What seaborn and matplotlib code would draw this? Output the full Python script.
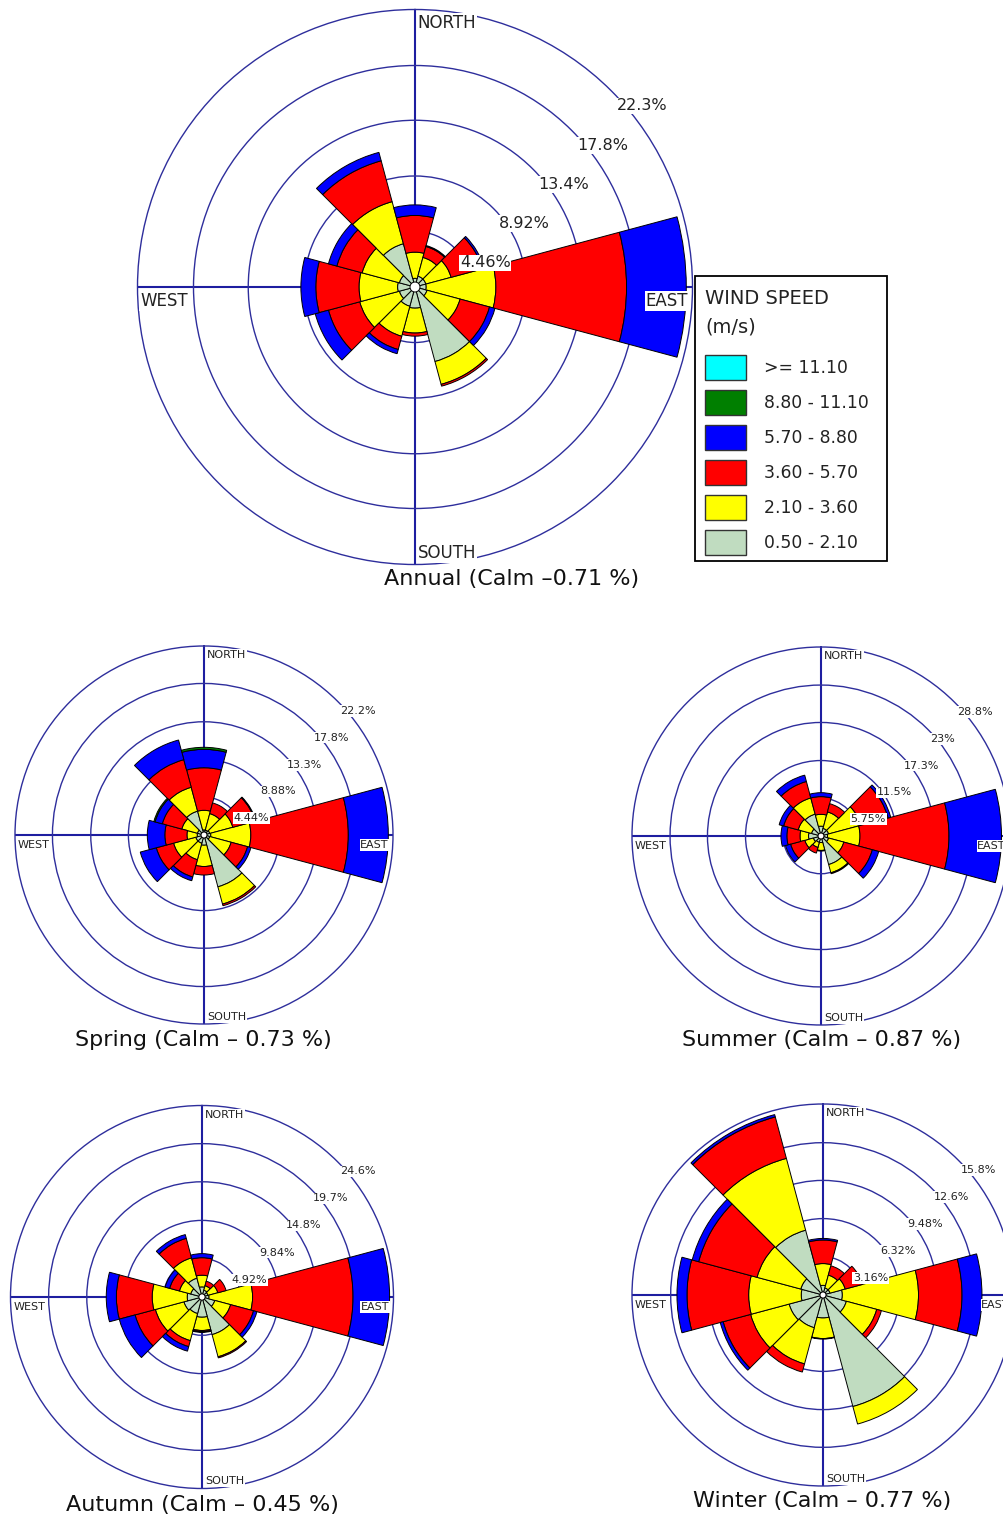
import numpy as np
import matplotlib
matplotlib.use("Agg")
import matplotlib.pyplot as plt
from matplotlib.patches import Patch, Rectangle
import seaborn as sns

# ---------------- data ----------------
directions = [0, 30, 60, 90, 120, 150, 180, 210, 240, 270, 300, 330]
speed_labels = ["0.50 - 2.10", "2.10 - 3.60", "3.60 - 5.70", "5.70 - 8.80", "8.80 - 11.10", ">= 11.10"]
speed_colors = ["#c0dcc0", "#ffff00", "#ff0000", "#0000ff", "#007f00", "#00ffff"]

# % frequency per direction and speed class
annual_050_210 = [0.7, 0.9, 0.9, 0.9, 1.0, 6.2, 1.7, 1.6, 1.3, 1.4, 1.3, 3.6]
annual_210_360 = [2.1, 1.56, 2.1, 5.6, 2.75, 1.9, 2.0, 2.5, 3.3, 3.1, 3.1, 3.5]
annual_360_570 = [2.95, 0.91, 2.6, 10.5, 2.45, 0.15, 0.25, 1.1, 2.6, 3.47, 2.1, 3.4]
annual_570_880 = [0.85, 0.08, 0.15, 4.8, 0.45, 0.0, 0.0, 0.35, 1.1, 1.2, 0.7, 0.7]
annual_880_1110 = [0, 0, 0, 0, 0, 0, 0, 0, 0, 0, 0, 0]
annual_ge_1110 = [0, 0, 0, 0, 0, 0, 0, 0, 0, 0, 0, 0]

spring_050_210 = [0.6, 0.6, 0.7, 0.8, 0.7, 6.3, 1.2, 1.0, 1.0, 0.8, 0.8, 2.9]
spring_210_360 = [2.3, 2.0, 2.8, 4.7, 2.6, 2.1, 2.5, 2.0, 2.7, 1.2, 1.9, 2.9]
spring_360_570 = [5.0, 1.3, 2.7, 11.45, 2.0, 0.2, 1.0, 2.1, 2.1, 2.6, 2.37, 3.36]
spring_570_880 = [2.16, 0.0, 0.1, 4.7, 0.4, 0.0, 0.0, 0.46, 1.95, 2.06, 0.88, 2.39]
spring_880_1110 = [0.24, 0, 0, 0, 0, 0, 0, 0, 0, 0, 0.15, 0]
spring_ge_1110 = [0, 0, 0, 0, 0, 0, 0, 0, 0, 0, 0, 0]

summer_050_210 = [1.5, 1.2, 1.2, 1.0, 1.2, 4.5, 1.0, 1.0, 1.2, 1.9, 1.5, 3.45]
summer_210_360 = [1.8, 2.6, 5.1, 4.94, 2.4, 1.3, 1.2, 0.8, 1.35, 1.3, 2.1, 2.55]
summer_360_570 = [2.7, 1.3, 4.3, 13.56, 4.5, 0.15, 0.1, 0.9, 2.25, 2.0, 2.3, 2.6]
summer_570_880 = [0.6, 0.0, 0.4, 8.0, 1.0, 0.0, 0.0, 0.0, 0.8, 0.9, 0.7, 1.0]
summer_880_1110 = [0, 0, 0, 0, 0, 0, 0, 0, 0, 0, 0, 0]
summer_ge_1110 = [0, 0, 0, 0, 0, 0, 0, 0, 0, 0, 0, 0]

autumn_050_210 = [1.3, 0.9, 0.8, 0.9, 1.7, 5.0, 2.6, 2.2, 2.4, 1.9, 1.5, 2.5]
autumn_210_360 = [1.5, 0.6, 1.3, 5.6, 2.1, 2.95, 1.7, 3.6, 3.8, 4.5, 1.5, 2.7]
autumn_360_570 = [2.25, 0.6, 1.1, 12.9, 3.05, 0.15, 0.15, 0.8, 2.7, 4.6, 1.3, 2.6]
autumn_570_880 = [0.52, 0.0, 0.0, 4.7, 0.45, 0.0, 0.1, 0.6, 2.1, 1.3, 0.6, 0.5]
autumn_880_1110 = [0, 0, 0, 0, 0, 0, 0, 0, 0, 0, 0, 0]
autumn_ge_1110 = [0, 0, 0, 0, 0, 0, 0, 0, 0, 0, 0, 0]

winter_050_210 = [0.8, 0.6, 0.6, 1.6, 2.0, 9.55, 1.9, 2.8, 2.9, 1.8, 1.9, 5.55]
winter_210_360 = [1.8, 1.1, 1.3, 6.3, 2.6, 1.5, 1.7, 3.1, 3.3, 4.35, 3.75, 6.15]
winter_360_570 = [1.95, 0.8, 1.47, 3.6, 0.4, 0.0, 0.05, 0.7, 2.35, 5.1, 5.0, 3.55]
winter_570_880 = [0.13, 0.0, 0.0, 1.65, 0.0, 0.0, 0.0, 0.0, 0.25, 0.83, 0.55, 0.2]
winter_880_1110 = [0, 0, 0, 0, 0, 0, 0, 0, 0, 0, 0, 0]
winter_ge_1110 = [0, 0, 0, 0, 0, 0, 0, 0, 0, 0, 0, 0]

annual_rings = [4.46, 8.92, 13.4, 17.8, 22.3]
annual_ring_labels = ["4.46%", "8.92%", "13.4%", "17.8%", "22.3%"]
spring_rings = [4.44, 8.88, 13.3, 17.8, 22.2]
spring_ring_labels = ["4.44%", "8.88%", "13.3%", "17.8%", "22.2%"]
summer_rings = [5.75, 11.5, 17.3, 23.0, 28.8]
summer_ring_labels = ["5.75%", "11.5%", "17.3%", "23%", "28.8%"]
autumn_rings = [4.92, 9.84, 14.8, 19.7, 24.6]
autumn_ring_labels = ["4.92%", "9.84%", "14.8%", "19.7%", "24.6%"]
winter_rings = [3.16, 6.32, 9.48, 12.6, 15.8]
winter_ring_labels = ["3.16%", "6.32%", "9.48%", "12.6%", "15.8%"]

titles = ["Annual (Calm \u20130.71 %)", "Spring (Calm \u2013 0.73 %)", "Summer (Calm \u2013 0.87 %)",
          "Autumn (Calm \u2013 0.45 %)", "Winter (Calm \u2013 0.77 %)"]

# ---------------- figure ----------------
sns.set_theme(style="white")
plt.rcParams['font.family'] = ['DejaVu Sans']

W, H = 1004, 1517
fig = plt.figure(figsize=(W / 100, H / 100), dpi=100)
fig.patch.set_facecolor("white")

RING_COLOR = "#2e2e9c"
AXIS_COLOR = "#1e1ea0"
TEXT_COLOR = "#222222"


def add_rose(cx, cy, R, classes, rings, ring_labels, dir_fs, ring_fs, ring_off, hole):
    ax = fig.add_axes([(cx - R) / W, 1 - (cy + R) / H, 2 * R / W, 2 * R / H], projection="polar")
    ax.set_theta_zero_location("N")
    ax.set_theta_direction(-1)
    ax.set_facecolor("white")
    theta = np.deg2rad(directions)
    bottom = np.zeros(len(directions))
    for vals, col in zip(classes, speed_colors):
        vals = np.asarray(vals, dtype=float)
        m = vals > 0
        if m.any():
            ax.bar(theta[m], vals[m], width=np.deg2rad(30), bottom=bottom[m], color=col,
                   edgecolor="black", linewidth=0.7, zorder=3, align="center")
        bottom += vals
    rmax = rings[-1]
    ax.set_ylim(0, rmax)
    ax.set_rgrids(rings[:-1], labels=[])
    ax.set_thetagrids([0, 90, 180, 270], labels=[])
    ax.yaxis.grid(True, color=RING_COLOR, linewidth=1.0)
    ax.xaxis.grid(True, color=AXIS_COLOR, linewidth=1.5)
    ax.set_axisbelow(True)
    ax.spines["polar"].set_color(RING_COLOR)
    ax.spines["polar"].set_linewidth(1.0)
    ax.tick_params(pad=0, length=0)
    # calm hole
    tt = np.linspace(0, 2 * np.pi, 120)
    ax.fill(tt, np.full_like(tt, hole), facecolor="white", edgecolor="black", linewidth=0.7, zorder=5)
    bb = dict(facecolor="white", edgecolor="none", pad=0.6)
    kw = dict(textcoords="offset points", fontsize=dir_fs, color=TEXT_COLOR, bbox=bb,
              zorder=7, annotation_clip=False)
    ax.annotate("NORTH", xy=(0, rmax), xytext=(2, -3), ha="left", va="top", **kw)
    ax.annotate("SOUTH", xy=(np.pi, rmax), xytext=(2, 1.5), ha="left", va="bottom", **kw)
    ax.annotate("WEST", xy=(1.5 * np.pi, rmax), xytext=(2, -3.5), ha="left", va="top", **kw)
    ax.annotate("EAST", xy=(0.5 * np.pi, rmax), xytext=(-3, -3.5), ha="right", va="top", **kw)
    for rv, lab in zip(rings, ring_labels):
        ax.annotate(lab, xy=(np.pi / 4, rv), xytext=ring_off, textcoords="offset points",
                    ha="left", va="top", fontsize=ring_fs, color=TEXT_COLOR, bbox=bb,
                    zorder=7, annotation_clip=False)
    return ax


add_rose(415, 287, 277.5,
         [annual_050_210, annual_210_360, annual_360_570, annual_570_880, annual_880_1110, annual_ge_1110],
         annual_rings, annual_ring_labels, 12, 11.5, (4, -5.5), 0.4)
add_rose(204, 835, 189,
         [spring_050_210, spring_210_360, spring_360_570, spring_570_880, spring_880_1110, spring_ge_1110],
         spring_rings, spring_ring_labels, 8, 8, (2, -3.5), 0.35)
add_rose(821, 836, 189,
         [summer_050_210, summer_210_360, summer_360_570, summer_570_880, summer_880_1110, summer_ge_1110],
         summer_rings, summer_ring_labels, 8, 8, (2, -3.5), 0.45)
add_rose(202, 1297, 191.5,
         [autumn_050_210, autumn_210_360, autumn_360_570, autumn_570_880, autumn_880_1110, autumn_ge_1110],
         autumn_rings, autumn_ring_labels, 8, 8, (2, -3.5), 0.4)
add_rose(823, 1295, 191,
         [winter_050_210, winter_210_360, winter_360_570, winter_570_880, winter_880_1110, winter_ge_1110],
         winter_rings, winter_ring_labels, 8, 8, (2, -3.5), 0.25)

# titles
title_pos = [(512, 579), (203, 1040), (822, 1040), (202, 1505), (822, 1501)]
for t, (tx, ty) in zip(titles, title_pos):
    fig.text(tx / W, 1 - ty / H, t, ha="center", va="center", fontsize=16, color="#111111")

# legend
fs = 12.4
handles = [Patch(facecolor=c, edgecolor="#333333", linewidth=1.0, label=l)
           for l, c in zip(speed_labels[::-1], speed_colors[::-1])]
leg = fig.legend(handles=handles, loc="upper left", bbox_to_anchor=(692 / W, 1 - 276 / H),
                 title="WIND SPEED\n(m/s)", alignment="left", fontsize=fs, title_fontsize=14,
                 handlelength=2.35, handleheight=1.86, labelspacing=0.58, handletextpad=1.05,
                 borderpad=0.76, borderaxespad=0, fancybox=False, frameon=False)
leg.get_title().set_linespacing(1.64)
leg._legend_box.sep = 0.58 * fs + 6
for txt in leg.get_texts():
    txt.set_color(TEXT_COLOR)
leg.get_title().set_color(TEXT_COLOR)
fig.patches.append(Rectangle((695 / W, 1 - 561 / H), 192 / W, 285 / H, transform=fig.transFigure,
                             fill=False, edgecolor="black", linewidth=1.3, zorder=10))

fig.savefig("out.png", dpi=100, facecolor="white")
